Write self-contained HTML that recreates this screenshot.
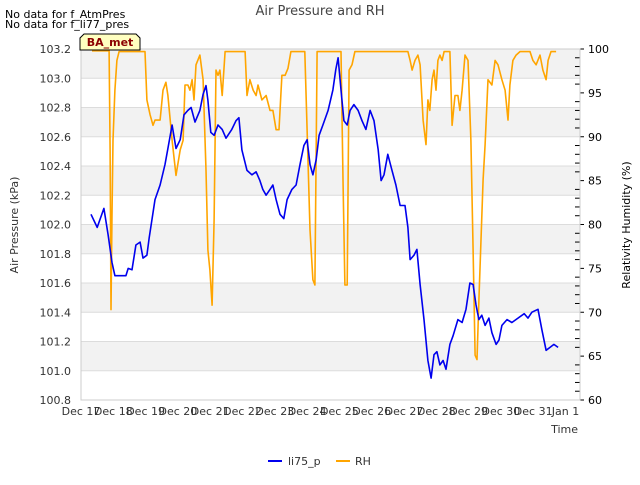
<!DOCTYPE html>
<html><head><meta charset="utf-8"><style>
body{margin:0;background:#fff;font-family:"Liberation Sans","DejaVu Sans",sans-serif;}
svg text{font-family:"DejaVu Sans","Liberation Sans",sans-serif;}
</style></head><body>
<svg id="c" width="640" height="480" xmlns="http://www.w3.org/2000/svg"></svg>
<script>
const xTickLabels=["Dec 17","Dec 18","Dec 19","Dec 20","Dec 21","Dec 22","Dec 23","Dec 24","Dec 25","Dec 26","Dec 27","Dec 28","Dec 29","Dec 30","Dec 31","Jan 1"];
const leftTicks=[100.8,101.0,101.2,101.4,101.6,101.8,102.0,102.2,102.4,102.6,102.8,103.0,103.2];
const rightTicks=[60,65,70,75,80,85,90,95,100];
const presDays=[0.31,0.50,0.71,0.84,0.96,1.05,1.21,1.39,1.46,1.58,1.70,1.83,1.92,2.04,2.11,2.29,2.45,2.60,2.69,2.82,2.94,3.07,3.19,3.31,3.41,3.53,3.68,3.78,3.87,3.93,4.02,4.12,4.24,4.37,4.49,4.67,4.80,4.89,4.98,5.14,5.29,5.42,5.54,5.63,5.73,5.85,5.94,6.04,6.16,6.28,6.38,6.53,6.66,6.78,6.90,7.00,7.09,7.18,7.28,7.37,7.49,7.65,7.80,7.89,7.96,8.05,8.14,8.24,8.33,8.45,8.58,8.70,8.82,8.95,9.07,9.20,9.29,9.38,9.50,9.63,9.75,9.88,10.03,10.12,10.19,10.31,10.40,10.50,10.62,10.74,10.84,10.93,11.02,11.11,11.21,11.30,11.42,11.52,11.67,11.80,11.92,12.04,12.14,12.23,12.32,12.41,12.51,12.63,12.72,12.85,12.94,13.03,13.19,13.34,13.53,13.72,13.84,13.96,14.15,14.27,14.40,14.52,14.64,14.77];
const presVals=[102.07,101.98,102.11,101.93,101.74,101.65,101.65,101.65,101.70,101.69,101.86,101.88,101.77,101.79,101.91,102.17,102.27,102.41,102.52,102.68,102.52,102.58,102.75,102.78,102.80,102.70,102.78,102.89,102.95,102.85,102.63,102.61,102.68,102.65,102.59,102.65,102.71,102.73,102.51,102.37,102.34,102.36,102.30,102.24,102.20,102.24,102.27,102.17,102.07,102.04,102.17,102.24,102.27,102.41,102.54,102.58,102.41,102.34,102.44,102.61,102.68,102.78,102.92,103.06,103.14,102.92,102.71,102.68,102.78,102.82,102.78,102.71,102.65,102.78,102.71,102.51,102.30,102.34,102.48,102.37,102.27,102.13,102.13,101.98,101.76,101.79,101.83,101.59,101.35,101.07,100.95,101.11,101.13,101.04,101.07,101.01,101.18,101.24,101.35,101.33,101.42,101.60,101.59,101.45,101.35,101.38,101.31,101.36,101.26,101.18,101.21,101.31,101.35,101.33,101.36,101.39,101.36,101.40,101.42,101.28,101.14,101.16,101.18,101.16];
const rhDays=[0.34,0.87,0.90,0.93,0.96,0.99,1.05,1.11,1.18,1.98,2.04,2.14,2.23,2.29,2.45,2.54,2.63,2.69,2.82,2.94,3.07,3.16,3.22,3.31,3.37,3.44,3.50,3.56,3.68,3.78,3.87,3.93,3.99,4.06,4.12,4.18,4.24,4.30,4.37,4.46,5.08,5.14,5.23,5.33,5.42,5.48,5.60,5.73,5.85,5.94,6.04,6.13,6.22,6.32,6.41,6.50,6.93,7.00,7.09,7.18,7.24,7.31,8.05,8.11,8.17,8.24,8.30,8.39,8.48,10.12,10.19,10.25,10.34,10.43,10.50,10.59,10.68,10.74,10.80,10.87,10.93,10.99,11.05,11.11,11.18,11.24,11.42,11.49,11.58,11.67,11.73,11.80,11.89,11.98,12.07,12.14,12.20,12.26,12.32,12.45,12.51,12.60,12.72,12.82,12.91,13.03,13.13,13.22,13.28,13.37,13.47,13.59,13.90,13.99,14.09,14.21,14.30,14.40,14.46,14.55,14.71];
const rhVals=[99.8,99.8,88.5,70.3,81.1,89.6,95.3,98.7,99.7,99.7,94.2,92.5,91.3,91.9,91.9,95.3,96.2,94.7,89.6,85.6,88.5,89.6,95.9,95.9,95.3,96.5,94.2,98.2,99.3,96.5,86.2,77.1,74.8,70.8,80.5,97.6,97.0,97.6,94.7,99.7,99.7,94.7,96.5,95.3,94.7,95.9,94.2,94.7,93.0,93.0,90.8,90.8,97.0,97.0,97.8,99.7,99.7,90.8,79.4,73.7,73.1,99.7,99.7,85.1,73.1,73.1,97.6,98.2,99.7,99.7,98.7,97.6,98.7,99.3,98.2,91.9,89.1,94.2,93.0,96.5,97.6,95.3,98.7,99.3,98.7,99.7,99.7,91.3,94.7,94.7,93.0,95.3,99.3,98.7,89.6,77.1,65.1,64.6,71.4,85.1,89.1,96.5,95.9,98.7,98.2,96.5,95.3,91.9,95.9,98.7,99.3,99.7,99.7,98.7,98.2,99.3,97.6,96.5,98.7,99.7,99.7];

const L=81,R=580,T=49,B=400,DX=32.3;
const xs=d=>L+d*DX;
const yp=v=>B-(v-100.8)/2.4*(B-T);
const yr=v=>B-(v-60)/40*(B-T);
const svg=document.getElementById('c');
const NS="http://www.w3.org/2000/svg";
function mk(tag,at,txt){const e=document.createElementNS(NS,tag);for(const k in at)e.setAttribute(k,at[k]);if(txt!==undefined)e.textContent=txt;svg.appendChild(e);return e;}

// bands
for(let i=0;i<6;i++){const top=103.2-i*0.4;
 const b=mk('rect',{x:L,y:yp(top),width:R-L,height:yp(top-0.2)-yp(top),fill:'#f2f2f2'});
 
 }
leftTicks.forEach(v=>{
 const g=mk('line',{x1:L,x2:R,y1:yp(v),y2:yp(v),stroke:'#dcdcdc','stroke-width':1});
 
 
 const t=mk('text',{x:L-10,y:yp(v)+4,'text-anchor':'end','font-size':11,fill:'#333'},v.toFixed(1));
 
 });
rightTicks.forEach(v=>{
 const t=mk('text',{x:R+8,y:yr(v)+4,'font-size':11,fill:'#000'},String(v));
 
 });
for(let v=60;v<=100;v++){ if(v%5===0)continue;
 const m=mk('line',{x1:R-5,x2:R,y1:yr(v),y2:yr(v),stroke:'#000','stroke-width':1});
 
 }
rightTicks.forEach(v=>{const m=mk('line',{x1:R,x2:R+4,y1:yr(v),y2:yr(v),stroke:'#000'});
 
 });
xTickLabels.forEach((s,i)=>{
 const t=mk('text',{x:xs(i),y:415,'text-anchor':'middle','font-size':11,fill:'#333'},s);
 
 });
const fr=mk('rect',{x:L,y:T,width:R-L,height:B-T,fill:'none',stroke:'#ccc'});



function line(ds,vs,f,col,name){
 const p=mk('polyline',{points:ds.map((d,i)=>xs(d).toFixed(1)+','+f(vs[i]).toFixed(1)).join(' '),fill:'none',stroke:col,'stroke-width':1.6,'stroke-linejoin':'round'});
 
 }
line(rhDays,rhVals,yr,'#ffa500','rh-line');
line(presDays,presVals,yp,'#0000ee','li75-p-line');

const txt=[["No data for f_AtmPres",5,18,'no-data-atmpres'],["No data for f_li77_pres",5,28,'no-data-li77']];
txt.forEach(a=>{const t=mk('text',{x:a[1],y:a[2],'font-size':11,fill:'#000'},a[0]);
 
 });
const ti=mk('text',{x:320,y:15,'text-anchor':'middle','font-size':13,fill:'#444'},'Air Pressure and RH');


const bx=mk('path',{d:'M84,34 L136,34 L140,38 L140,50 L80,50 L80,38 Z',fill:'#ffffc0',stroke:'#000','stroke-width':1});


const bt=mk('text',{x:110,y:46,'text-anchor':'middle','font-size':11,'font-weight':'bold',fill:'#8b0000'},'BA_met');


const yl=mk('text',{x:18,y:225,'text-anchor':'middle','font-size':11,fill:'#333',transform:'rotate(-90 18 225)'},'Air Pressure (kPa)');


const yr2=mk('text',{x:630,y:225,'text-anchor':'middle','font-size':11,fill:'#000',transform:'rotate(-90 630 225)'},'Relativity Humidity (%)');


const xl=mk('text',{x:578,y:433,'text-anchor':'end','font-size':11,fill:'#333'},'Time');


const l1=mk('line',{x1:268,x2:282,y1:461,y2:461,stroke:'#0000ee','stroke-width':2});


const t1=mk('text',{x:288,y:465,'font-size':11,fill:'#333'},'li75_p');


const l2=mk('line',{x1:336,x2:350,y1:461,y2:461,stroke:'#ffa500','stroke-width':2});


const t2=mk('text',{x:355,y:465,'font-size':11,fill:'#333'},'RH');


</script>
</body></html>
